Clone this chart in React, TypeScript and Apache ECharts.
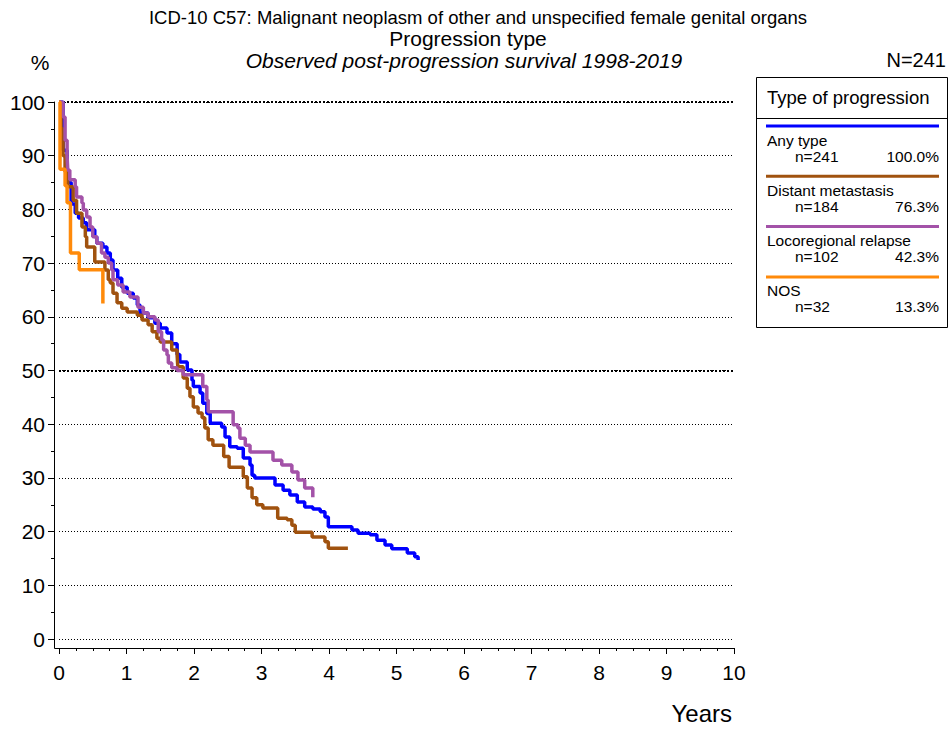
import React, { useEffect, useRef } from "react";
import * as echarts from "echarts";

// ---- Data ----
const xTicks = [0, 1, 2, 3, 4, 5, 6, 7, 8, 9, 10];
const yTicks = [0, 10, 20, 30, 40, 50, 60, 70, 80, 90, 100];

const seriesNames = ["Any type", "Distant metastasis", "Locoregional relapse", "NOS"];
const seriesN = ["n=241", "n=184", "n=102", "n=32"];
const seriesPct = ["100.0%", "76.3%", "42.3%", "13.3%"];
const seriesColors = ["#0000ff", "#a0520f", "#a352a8", "#ff8a0a"];

// Any type: years of each step and survival (%) after the step
const anyYears = [0, 0.06, 0.12, 0.18, 0.24, 0.29, 0.36, 0.41, 0.53, 0.56, 0.65, 0.71, 0.76, 0.8, 0.87, 0.93, 1.01, 1.1, 1.16, 1.2, 1.32, 1.42, 1.5, 1.6, 1.67, 1.75, 1.79, 1.9, 1.97, 1.99, 2.09, 2.13, 2.19, 2.24, 2.41, 2.46, 2.53, 2.64, 2.73, 2.83, 2.86, 2.9, 3.16, 3.2, 3.32, 3.42, 3.53, 3.64, 3.76, 3.87, 3.94, 3.99, 4.28, 4.34, 4.43, 4.61, 4.71, 4.83, 4.93, 5.05, 5.16, 5.27, 5.32];
const anySurv = [100, 91, 85, 81, 79.3, 78.4, 77.5, 76.2, 74.9, 73.7, 73, 71.9, 70.6, 68.7, 67.2, 65.5, 64.4, 63.5, 62.2, 60.7, 59.8, 58.8, 57.9, 57, 55, 53, 51.6, 50.1, 48.2, 47, 45.8, 43.9, 42, 40.2, 39.5, 37.6, 35.8, 35.5, 33.7, 32.4, 30.5, 30, 30, 28.7, 27.7, 26.8, 25.5, 24.6, 24.2, 23.7, 22.7, 20.9, 20.9, 20.3, 19.7, 19.4, 18.4, 17.5, 16.8, 16.8, 16, 15.3, 14.7];

// Distant metastasis
const distYears = [0, 0.03, 0.06, 0.09, 0.13, 0.21, 0.26, 0.34, 0.39, 0.41, 0.53, 0.68, 0.73, 0.76, 0.8, 0.86, 0.93, 1.01, 1.16, 1.23, 1.32, 1.38, 1.45, 1.5, 1.67, 1.75, 1.76, 1.84, 1.9, 1.94, 1.99, 2.06, 2.12, 2.16, 2.21, 2.28, 2.44, 2.52, 2.73, 2.79, 2.86, 2.93, 3.02, 3.24, 3.38, 3.45, 3.5, 3.75, 3.94, 3.99, 4.28];
const distSurv = [100, 95, 90, 87, 84.2, 81.7, 79.3, 76.7, 74.9, 73, 70.2, 68.7, 66.9, 66.3, 64.4, 62.6, 61.6, 60.9, 60.3, 59.4, 58.5, 57.2, 56, 55.3, 53.8, 52.9, 50.7, 48.6, 46.7, 45.1, 43.2, 42.1, 41.2, 39.3, 37.1, 36.1, 34, 32, 30.2, 28.1, 26.3, 25, 24.4, 22.5, 22.2, 21.2, 19.9, 19, 18.1, 16.9, 16.9];

// Locoregional relapse
const locoYears = [0, 0.06, 0.09, 0.12, 0.13, 0.16, 0.24, 0.26, 0.34, 0.36, 0.41, 0.46, 0.5, 0.56, 0.63, 0.68, 0.73, 0.78, 0.8, 0.87, 0.95, 1.05, 1.17, 1.25, 1.32, 1.42, 1.47, 1.52, 1.55, 1.6, 1.62, 1.67, 1.75, 1.84, 2.13, 2.19, 2.21, 2.58, 2.65, 2.68, 2.76, 2.83, 3.17, 3.3, 3.45, 3.54, 3.64, 3.76];
const locoSurv = [100, 97.2, 92.9, 89.8, 87.3, 85.5, 84.2, 82.3, 81.2, 79.9, 78.6, 76.7, 74.9, 73.7, 71.9, 71.1, 70, 68.7, 66.9, 65.9, 64.6, 63.7, 61.8, 60.7, 60, 59.4, 57.2, 55.7, 53.8, 52.9, 51.4, 50.5, 50, 49.2, 47, 44.5, 42.3, 39.9, 39.3, 37.4, 36.1, 34.8, 33.3, 32.4, 31.1, 29.6, 28.1, 26.4];

// NOS
const nosYears = [0, 0.015, 0.09, 0.12, 0.17, 0.3, 0.65];
const nosSurv = [100, 87.5, 84.4, 81.25, 71.9, 68.75, 62.5];

const seriesYears = [anyYears, distYears, locoYears, nosYears];
const seriesSurv = [anySurv, distSurv, locoSurv, nosSurv];

const FONT = 'Arial, "Liberation Sans", sans-serif';

export default function App() {
  const ref = useRef<HTMLDivElement>(null);

  useEffect(() => {
    if (!ref.current) return;
    const chart = echarts.init(ref.current, null, { renderer: "svg" });

    const series: any[] = seriesNames.map((name, i) => ({
      name,
      type: "line",
      step: "end",
      showSymbol: false,
      symbol: "none",
      data: seriesYears[i].map((t, k) => [t, seriesSurv[i][k]]),
      lineStyle: { color: seriesColors[i], width: 3.5 },
      itemStyle: { color: seriesColors[i] },
      z: 3 + i,
      silent: true,
    }));
    series[0].markLine = {
      silent: true,
      symbol: "none",
      label: { show: false },
      lineStyle: { color: "#000", type: [2, 2], width: 2 },
      data: [{ yAxis: 50 }, { yAxis: 100 }],
      z: 1,
    };

    const legendX = 756;
    const legendTop = 77;
    const legendGraphics: any[] = [
      {
        type: "rect",
        shape: { x: legendX + 0.5, y: legendTop + 0.5, width: 191, height: 250 },
        style: { fill: "#fff", stroke: "#000", lineWidth: 1 },
      },
      {
        type: "line",
        shape: { x1: legendX, y1: 118.5, x2: legendX + 191, y2: 118.5 },
        style: { stroke: "#000", lineWidth: 1 },
      },
      {
        type: "text",
        x: 767,
        y: 97,
        style: { text: "Type of progression", font: `18.5px ${FONT}`, fill: "#000", textVerticalAlign: "middle" },
      },
    ];
    seriesNames.forEach((name, i) => {
      const ly = 126 + i * 50.3;
      legendGraphics.push(
        {
          type: "line",
          shape: { x1: 766, y1: ly, x2: 939, y2: ly },
          style: { stroke: seriesColors[i], lineWidth: 3 },
        },
        {
          type: "text",
          x: 767,
          y: ly + 14,
          style: { text: name, font: `15.5px ${FONT}`, fill: "#000", textVerticalAlign: "middle" },
        },
        {
          type: "text",
          x: 795,
          y: ly + 30,
          style: { text: seriesN[i], font: `15.5px ${FONT}`, fill: "#000", textVerticalAlign: "middle" },
        },
        {
          type: "text",
          x: 939,
          y: ly + 30,
          style: { text: seriesPct[i], font: `15.5px ${FONT}`, fill: "#000", textAlign: "right", textVerticalAlign: "middle" },
        }
      );
    });

    chart.setOption({
      animation: false,
      backgroundColor: "#fff",
      grid: { left: 59, top: 102, width: 675, height: 537, containLabel: false },
      xAxis: {
        type: "value",
        min: 0,
        max: 10,
        interval: 1,
        offset: 9,
        axisLine: { show: true, onZero: false, lineStyle: { color: "#000", width: 1 } },
        axisTick: { show: true, length: 6, lineStyle: { color: "#000" } },
        minorTick: { show: true, splitNumber: 4, length: 3, lineStyle: { color: "#000" } },
        axisLabel: {
          color: "#000",
          fontSize: 21,
          fontFamily: FONT,
          margin: 14,
          formatter: (v: number) => (xTicks.includes(v) ? String(v) : ""),
        },
        splitLine: { show: false },
      },
      yAxis: {
        type: "value",
        min: 0,
        max: 100,
        interval: 10,
        offset: 5,
        axisLine: { show: true, onZero: false, lineStyle: { color: "#000", width: 1 } },
        axisTick: { show: true, length: 6, lineStyle: { color: "#000" } },
        minorTick: { show: true, splitNumber: 2, length: 3, lineStyle: { color: "#000" } },
        axisLabel: {
          color: "#000",
          fontSize: 21,
          fontFamily: FONT,
          margin: 9,
          formatter: (v: number) => (yTicks.includes(v) ? String(v) : ""),
        },
        splitLine: {
          show: true,
          lineStyle: { color: "#000", type: [1, 2], width: 1 },
        },
      },
      series,
      graphic: [
        {
          type: "line",
          shape: { x1: 54.5, y1: 639, x2: 54.5, y2: 648.5 },
          style: { stroke: "#000", lineWidth: 1 },
        },
        {
          type: "line",
          shape: { x1: 54.5, y1: 648.5, x2: 59, y2: 648.5 },
          style: { stroke: "#000", lineWidth: 1 },
        },
        {
          type: "text",
          x: 478,
          y: 17,
          style: {
            text: "ICD-10 C57: Malignant neoplasm of other and unspecified female genital organs",
            font: `18.5px ${FONT}`,
            fill: "#000",
            textAlign: "center",
            textVerticalAlign: "middle",
          },
        },
        {
          type: "text",
          x: 468,
          y: 38,
          style: { text: "Progression type", font: `21px ${FONT}`, fill: "#000", textAlign: "center", textVerticalAlign: "middle" },
        },
        {
          type: "text",
          x: 464,
          y: 60,
          style: {
            text: "Observed post-progression survival 1998-2019",
            font: `italic 21px ${FONT}`,
            fill: "#000",
            textAlign: "center",
            textVerticalAlign: "middle",
          },
        },
        {
          type: "text",
          x: 40,
          y: 62,
          style: { text: "%", font: `21px ${FONT}`, fill: "#000", textAlign: "center", textVerticalAlign: "middle" },
        },
        {
          type: "text",
          x: 946,
          y: 60,
          style: { text: "N=241", font: `20px ${FONT}`, fill: "#000", textAlign: "right", textVerticalAlign: "middle" },
        },
        {
          type: "text",
          x: 732,
          y: 713,
          style: { text: "Years", font: `24px ${FONT}`, fill: "#000", textAlign: "right", textVerticalAlign: "middle" },
        },
        ...legendGraphics,
      ],
    });

    return () => chart.dispose();
  }, []);

  return (
    <div
      ref={ref}
      style={{ position: "fixed", left: 0, top: 0, width: 948, height: 729, background: "#fff" }}
    />
  );
}
